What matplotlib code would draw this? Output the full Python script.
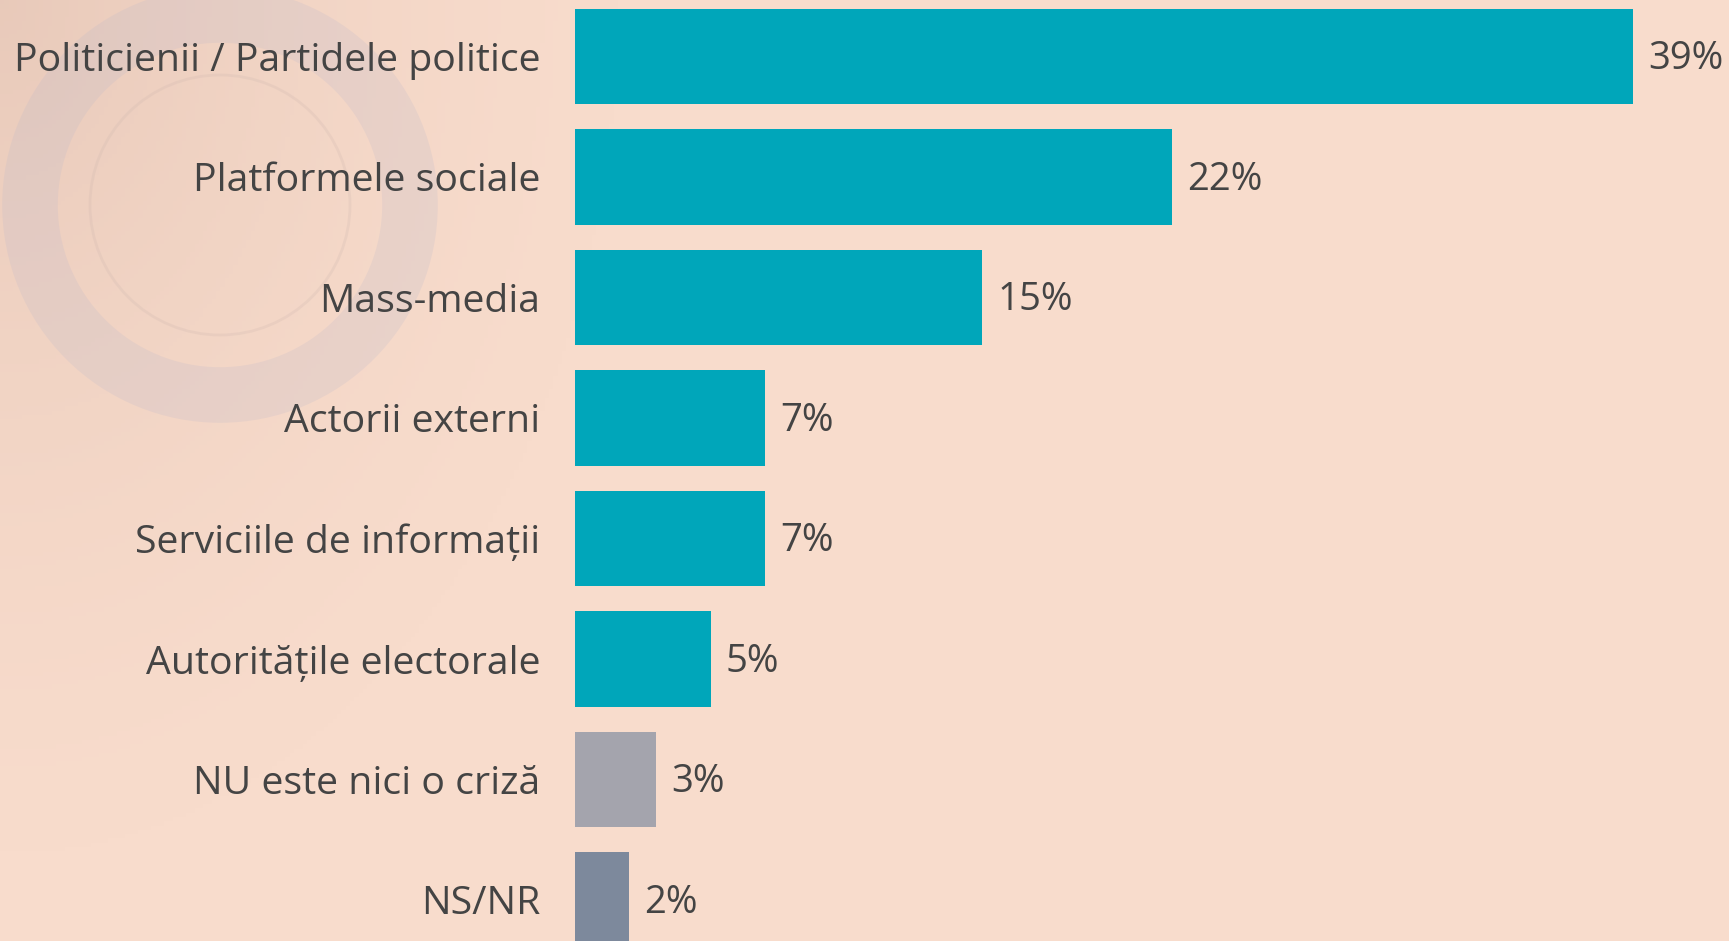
import numpy as np
import matplotlib.pyplot as plt
from matplotlib.patches import Circle

categories = ['Politicienii / Partidele politice', 'Platformele sociale', 'Mass-media',
              'Actorii externi', 'Serviciile de informații', 'Autoritățile electorale',
              'NU este nici o criză', 'NS/NR']
values = [39, 22, 15, 7, 7, 5, 3, 2]
colors = ['#00A6BA'] * 6 + ['#A4A4AD', '#7D899C']

bg = '#F8DCCC'
txt = '#444444'
plt.rcParams['font.family'] = ['Open Sans', 'DejaVu Sans']

fig = plt.figure(figsize=(17.29, 9.41), dpi=100, facecolor=bg)

# faint watermark on the left
bgax = fig.add_axes([0, 0, 1, 1], zorder=0)
bgax.set_xlim(0, 1729)
bgax.set_ylim(941, 0)
bgax.axis('off')
xx, yy = np.meshgrid(np.linspace(0, 1729, 400), np.linspace(0, 941, 220))
fade = np.clip(1 - np.hypot(xx / 650, yy / 900), 0, 1) ** 1.5
img = np.zeros(xx.shape + (4,))
img[..., 0] = 0.80
img[..., 1] = 0.66
img[..., 2] = 0.60
img[..., 3] = fade * 0.35
bgax.imshow(img, extent=[0, 1729, 941, 0], aspect='auto')
bgax.add_patch(Circle((220, 205), 190, fill=False, lw=40, ec='#B8B6CC', alpha=0.2))
bgax.add_patch(Circle((220, 205), 130, fill=False, lw=2, ec='#D0B8B0', alpha=0.25))

ax = fig.add_axes([575 / 1729, 0, 1154 / 1729, 1], zorder=1)
ax.patch.set_alpha(0)
y = np.arange(len(categories))
ax.barh(y, values, height=0.79, color=colors)
ax.set_xlim(0, 39 * 1154 / 1058)
ax.set_ylim((941 - 56.5) / 120.5, -56.5 / 120.5)

ax.set_yticks(y)
ax.set_yticklabels(categories, fontsize=28.3, color=txt)
ax.tick_params(axis='y', length=0, pad=25)
ax.set_xticks([])
for s in ax.spines.values():
    s.set_visible(False)

for yi, v in zip(y, values):
    ax.annotate(f'{v}%', (v, yi), xytext=(11, -2), textcoords='offset points',
                va='center', ha='left', fontsize=27.5, color=txt)

fig.savefig('out.png', dpi=100, facecolor=bg)
